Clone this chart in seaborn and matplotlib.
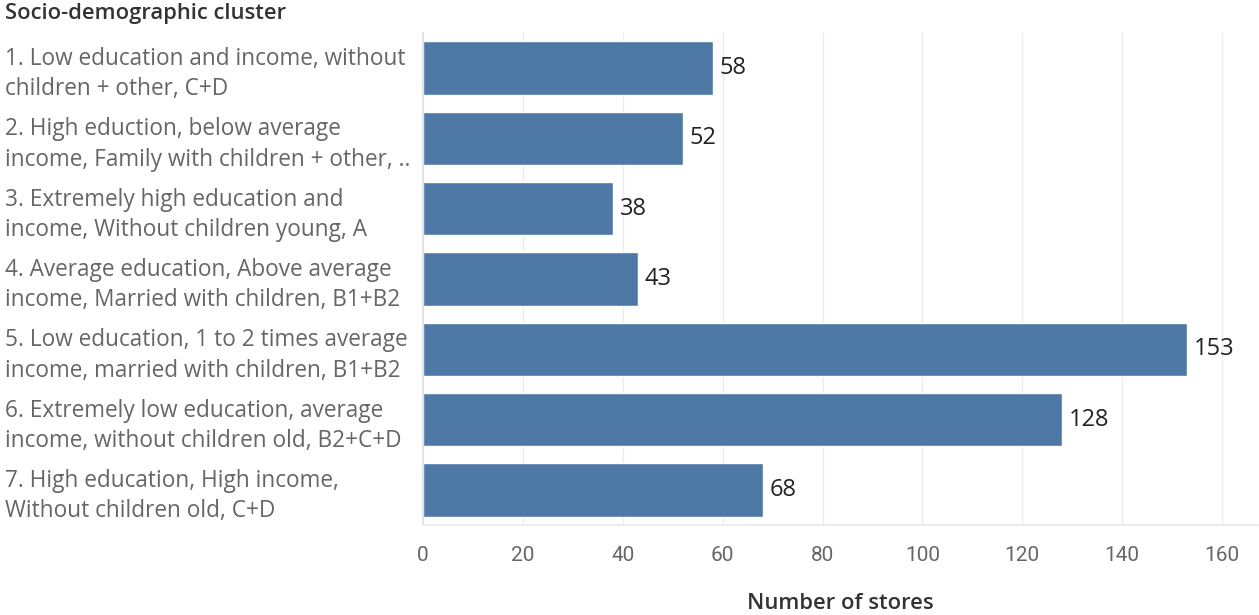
import matplotlib
matplotlib.use("Agg")
import matplotlib.pyplot as plt
import seaborn as sns
import pandas as pd

clusters = [
    "1. Low education and income, without\nchildren + other, C+D",
    "2. High eduction, below average\nincome, Family with children + other, ..",
    "3. Extremely high education and\nincome, Without children young, A",
    "4. Average education, Above average\nincome, Married with children, B1+B2",
    "5. Low education, 1 to 2 times average\nincome, married with children, B1+B2",
    "6. Extremely low education, average\nincome, without children old, B2+C+D",
    "7. High education, High income,\nWithout children old, C+D",
]
stores = [58, 52, 38, 43, 153, 128, 68]
x_ticks = [0, 20, 40, 60, 80, 100, 120, 140, 160]

df = pd.DataFrame({"cluster": clusters, "stores": stores})

sns.set_theme(style="white")
plt.rcParams["font.family"] = ["Open Sans", "DejaVu Sans"]

fig = plt.figure(figsize=(12.59, 6.15), dpi=100)
ax = fig.add_axes([423 / 1259, 1 - 525 / 615, (1258 - 423) / 1259, (525 - 33) / 615])

sns.barplot(data=df, x="stores", y="cluster", color="#4e79a7", saturation=1,
            width=0.76, ax=ax, orient="h")

ax.set_xlim(0, 167.2)
ax.set_xticks(x_ticks)
ax.set_xticklabels([str(t) for t in x_ticks], fontsize=15, color="#666666",
                   family=["Roboto", "DejaVu Sans"])
ax.tick_params(axis="x", length=8, color="#ebebeb", pad=7)
ax.grid(axis="x", color="#ebebeb", linewidth=1)
ax.set_axisbelow(True)

ax.tick_params(axis="y", length=0, pad=418 * 0.72)
for lbl in ax.get_yticklabels():
    lbl.set_ha("left")
    lbl.set_fontsize(16.3)
    lbl.set_color("#666666")
    lbl.set_linespacing(1.35)

for i, v in enumerate(stores):
    ax.text(v + 1.4, i, str(v), va="center", ha="left", fontsize=17, color="#222222")

for s in ["top", "right"]:
    ax.spines[s].set_visible(False)
ax.spines["left"].set_color("#e0e0e0")
ax.spines["bottom"].set_color("#ebebeb")

ax.set_ylabel("")
ax.set_xlabel("Number of stores", fontsize=15.8, color="#333333", labelpad=20,
              fontweight="semibold")

fig.text(5 / 1259, 1 - 14 / 615, "Socio-demographic cluster", fontsize=15.8,
         color="#333333", ha="left", va="center", fontweight="semibold")

fig.savefig("out.png", dpi=100)
